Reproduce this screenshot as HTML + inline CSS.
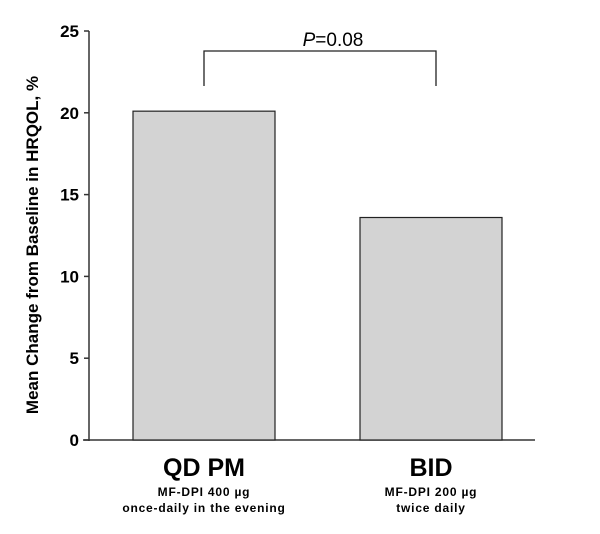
<!DOCTYPE html>
<html><head><meta charset="utf-8"><style>body{margin:0;background:#fff}svg{display:block;font-family:"Liberation Sans",Arial,sans-serif}</style></head>
<body>
<svg id="chart" width="600" height="534"></svg>
<script>
const categories=["QD PM","BID"];
const subLine1=["MF-DPI 400 \u00b5g","MF-DPI 200 \u00b5g"];
const subLine2=["once-daily in the evening","twice daily"];
const values=[20.1,13.6];
const ticks=[0,5,10,15,20,25];
const ns="http://www.w3.org/2000/svg";
const svg=document.getElementById("chart");
const y=v=>440-v*16.36;
const centers=[204,431];
const bw=142;
function mk(t,a,txt){const e=document.createElementNS(ns,t);for(const k in a)e.setAttribute(k,a[k]);if(txt!=null)e.textContent=txt;svg.appendChild(e);return e;}
let e=mk("line",{x1:89,y1:y(25),x2:89,y2:441,stroke:"#333","stroke-width":1.5});


e=mk("line",{x1:83,y1:440,x2:535,y2:440,stroke:"#333","stroke-width":1.5});


ticks.forEach(t=>{
 let l=mk("line",{x1:84,y1:y(t),x2:89,y2:y(t),stroke:"#333","stroke-width":1.5});
 
 
 let tx=mk("text",{x:79,y:y(t)+6,"text-anchor":"end","font-size":17,"font-weight":"bold"},t);
 
 
});
values.forEach((v,i)=>{
 let r=mk("rect",{x:centers[i]-bw/2,y:y(v),width:bw,height:440-y(v),fill:"#d3d3d3",stroke:"#222","stroke-width":1.2});
 
 
 let c=mk("text",{x:centers[i],y:476,"text-anchor":"middle","font-size":25,"font-weight":"bold"},categories[i]);
 
 
 let s1=mk("text",{x:centers[i],y:496,"text-anchor":"middle","font-size":12,"font-weight":"bold","letter-spacing":0.8},subLine1[i]);
 
 
 let s2=mk("text",{x:centers[i],y:512,"text-anchor":"middle","font-size":12,"font-weight":"bold","letter-spacing":0.8},subLine2[i]);
 
 
});
e=mk("path",{d:"M204,86 V51 H436 V86",fill:"none",stroke:"#222","stroke-width":1.3});


e=mk("text",{x:333,y:46,"text-anchor":"middle","font-size":19});


e.innerHTML='<tspan font-style="italic">P</tspan>=0.08';
e=mk("text",{transform:"translate(38,245) rotate(-90)","text-anchor":"middle","font-size":17,"font-weight":"bold"},"Mean Change from Baseline in HRQOL, %");


</script>
</body></html>
